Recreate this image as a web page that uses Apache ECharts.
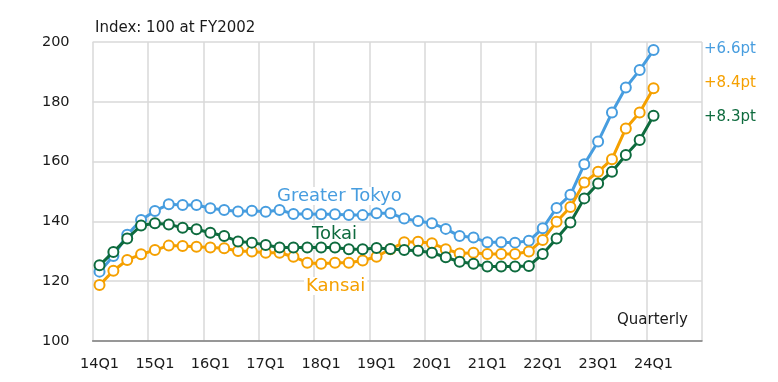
<!DOCTYPE html>
<html><head><meta charset="utf-8">
<script src="https://cdn.jsdelivr.net/npm/echarts@6/dist/echarts.min.js"></script>
<style>html,body{margin:0;padding:0;background:#fff}#c{width:778px;height:382px}</style>
</head><body><div id="c"></div>
<script>
const categories = ['14Q1','14Q2','14Q3','14Q4','15Q1','15Q2','15Q3','15Q4','16Q1','16Q2','16Q3','16Q4',
  '17Q1','17Q2','17Q3','17Q4','18Q1','18Q2','18Q3','18Q4','19Q1','19Q2','19Q3','19Q4',
  '20Q1','20Q2','20Q3','20Q4','21Q1','21Q2','21Q3','21Q4','22Q1','22Q2','22Q3','22Q4',
  '23Q1','23Q2','23Q3','23Q4','24Q1','24Q2','24Q3','24Q4'];
const greaterTokyo = [123.2,128.4,135.5,140.5,143.5,145.7,145.5,145.5,144.4,143.8,143.3,143.6,
  143.2,143.8,142.5,142.5,142.4,142.4,142.1,142.1,142.7,142.7,141.0,140.1,
  139.4,137.5,135.1,134.6,133.0,133.0,132.9,133.5,137.7,144.5,148.9,159.1,
  166.7,176.4,184.8,190.6,197.3];
const kansai = [118.7,123.5,127.1,129.0,130.4,131.9,131.8,131.5,131.3,131.0,130.1,129.9,
  129.5,129.5,128.2,126.2,125.8,126.2,126.2,126.9,128.2,130.7,133.0,133.2,
  132.7,130.7,129.3,129.5,129.1,129.1,129.1,129.9,133.8,139.9,144.8,153.0,
  156.6,160.8,171.1,176.4,184.5];
const tokai = [125.3,129.8,134.3,138.6,139.4,139.0,137.9,137.4,136.2,135.1,133.3,132.9,
  132.1,131.3,131.3,131.3,131.3,131.3,130.7,130.7,131.1,130.8,130.4,130.2,
  129.5,128.0,126.5,125.8,124.9,124.9,124.9,125.1,129.1,134.3,139.6,147.7,
  152.7,156.6,162.2,167.2,175.3];
const seriesNames = ['Greater Tokyo','Kansai','Tokai'];
const changeLabels = ['+6.6pt','+8.4pt','+8.3pt'];
const yTicks = [100,120,140,160,180,200];

const colors = ['#479ddf','#f5a000','#0e6b3e'];
const FONT = 'DejaVu Sans';
const chart = echarts.init(document.getElementById('c'), null, {renderer:'canvas'});
function mk(name, data, color, z){
  return {name, type:'line', data, z,
    symbol:'circle', symbolSize:10, showAllSymbol:true,
    lineStyle:{color, width:3},
    itemStyle:{color:'#fff', borderColor:color, borderWidth:2},
    emphasis:{disabled:true}, animation:false};
}
function seriesText(left, top, text, color){
  return {type:'text', left, top, z:1,
    style:{text, fill:color, font:'18px "DejaVu Sans"', backgroundColor:'#fff', padding:[0,2]}};
}
chart.setOption({
  animation:false,
  grid:{left:92.6, right:76, top:42, bottom:41, containLabel:false},
  xAxis:{type:'category', data:categories, boundaryGap:true,
    axisLine:{lineStyle:{color:'#7f7f7f', width:1.5}},
    axisTick:{show:false},
    axisLabel:{interval:3, color:'#1a1a1a', fontFamily:FONT, fontSize:14.5, margin:16},
    splitLine:{show:true, interval:3, lineStyle:{color:'#d9d9d9', width:1.5}}},
  yAxis:{type:'value', min:yTicks[0], max:yTicks[yTicks.length-1], interval:20,
    axisLine:{show:false}, axisTick:{show:false},
    axisLabel:{color:'#1a1a1a', fontFamily:FONT, fontSize:14.5, margin:23},
    splitLine:{lineStyle:{color:'#d9d9d9', width:1.5}}},
  series:[mk(seriesNames[0], greaterTokyo, colors[0], 2),
          mk(seriesNames[1], kansai, colors[1], 3),
          mk(seriesNames[2], tokai, colors[2], 4)],
  graphic:[
    {type:'text', left:95, top:21, style:{text:'Index: 100 at FY2002', fill:'#1a1a1a', font:'15px "DejaVu Sans"'}},
    {type:'text', right:90, top:313, z:1, style:{text:'Quarterly', fill:'#1a1a1a', font:'15px "DejaVu Sans"'}},
    seriesText(275, 187, seriesNames[0], colors[0]),
    seriesText(310, 225, seriesNames[2], colors[2]),
    seriesText(304, 277, seriesNames[1], colors[1]),
    {type:'text', left:704, top:42, style:{text:changeLabels[0], fill:colors[0], font:'15px "DejaVu Sans"'}},
    {type:'text', left:704, top:76, style:{text:changeLabels[1], fill:colors[1], font:'15px "DejaVu Sans"'}},
    {type:'text', left:704, top:110, style:{text:changeLabels[2], fill:colors[2], font:'15px "DejaVu Sans"'}}
  ]
});
</script></body></html>
